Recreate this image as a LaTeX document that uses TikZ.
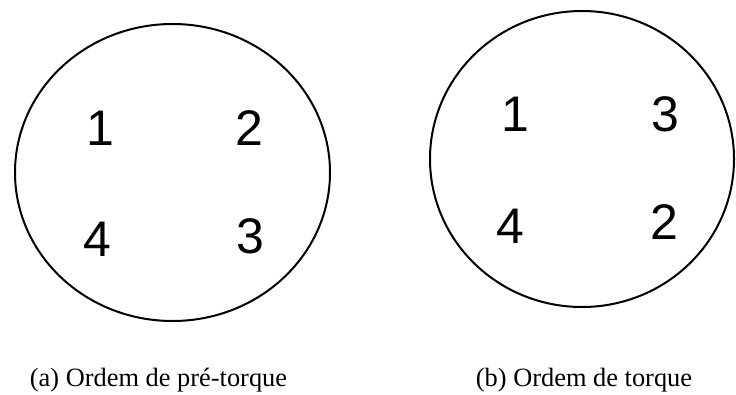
\documentclass[tikz,border=0pt]{standalone}
\usepackage{fontspec}
\setmainfont{Liberation Serif}
\newfontfamily\digitfont{Liberation Sans}
\usepackage{tikz}
\usetikzlibrary{positioning}

\begin{document}
\begin{tikzpicture}[x=1pt, y=-1pt,
    flange/.style={draw=black, line width=2pt},
    bolt/.style={inner sep=0pt, font=\digitfont\fontsize{50}{60}\selectfont},
    legenda/.style={inner sep=0pt, anchor=base, font=\fontsize{26.4}{30}\selectfont}]
    \useasboundingbox (0,0) rectangle (736,394);
    % Ordem de pre-torque
    \draw[flange] (172.5,172.5) ellipse [x radius=157.5, y radius=148.5];
    \node[bolt] (pre1) at (100,128) {1};
    \node[bolt] (pre2) at (249,128) {2};
    \node[bolt] (pre3) at (250,236) {3};
    \node[bolt] (pre4) at (97,239) {4};
    \node[legenda] (capa) at (158.5,386.6) {(a) Ordem de pré-torque};
    % Ordem de torque
    \draw[flange] (582,159) ellipse [x radius=152, y radius=148];
    \node[bolt] (tor1) at (515,114) {1};
    \node[bolt] (tor2) at (664,222.5) {2};
    \node[bolt] (tor3) at (665,114) {3};
    \node[bolt] (tor4) at (510,226) {4};
    \node[legenda] (capb) at (584,386.6) {(b) Ordem de torque};
\end{tikzpicture}
\end{document}
